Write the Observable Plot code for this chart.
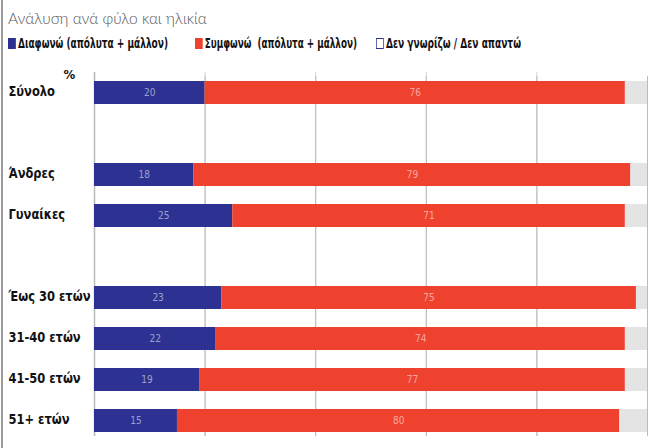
<!DOCTYPE html>
<html><head><meta charset="utf-8">
<script src="https://cdn.jsdelivr.net/npm/d3@7"></script>
<script src="https://cdn.jsdelivr.net/npm/@observablehq/plot@0.6"></script>
<style>
body{margin:0;width:658px;height:448px;position:relative;background:#fff;overflow:hidden;font-family:"DejaVu Sans Condensed",sans-serif;}
#border{position:absolute;left:1px;top:0;width:2px;height:448px;background:#9a9a9a;}
#title{position:absolute;left:8px;top:9px;font-family:Lato,sans-serif;font-weight:300;font-size:15.5px;color:#555;}
#legend{position:absolute;left:0;top:35px;font-size:14px;font-weight:bold;color:#111;white-space:nowrap;}
#legend span.item{position:absolute;top:0;transform-origin:0 50%;}
#legend i{display:inline-block;width:11px;height:11px;margin-right:3px;vertical-align:-1px;}
#chart{position:absolute;left:0;top:58px;}
</style></head>
<body>
<div id="border"></div>
<div id="title">Ανάλυση ανά φύλο και ηλικία</div>
<div id="legend"></div>
<div id="chart"></div>
<script>
const categories = ["Σύνολο", " ", "Άνδρες", "Γυναίκες", "  ", "Έως 30 ετών", "31-40 ετών", "41-50 ετών", "51+ ετών"];
const disagree = [20, null, 18, 25, null, 23, 22, 19, 15];
const agree    = [76, null, 79, 71, null, 75, 74, 77, 80];
const dontKnow = [4, null, 3, 4, null, 2, 4, 4, 5];
const seriesNames = ["Διαφωνώ (απόλυτα + μάλλον)", "Συμφωνώ  (απόλυτα + μάλλον)", "Δεν γνωρίζω / Δεν απαντώ"];
const seriesColors = ["#2c3192", "#ee412e", "#e4e4e4"];
const gridTicks = [20, 40, 60, 80];
const axisTicks = [0, 20, 40, 60, 80, 100];

// legend
const legend = document.getElementById("legend");
const legendX = [8, 195, 376];
const legendW = [160, 162, 145];
seriesNames.forEach((n, i) => {
  const s = document.createElement("span");
  s.className = "item";
  s.style.left = legendX[i] + "px";
  const box = i === 2 ? `<i style="background:#fff;border:1.5px solid #2c3192;box-sizing:border-box;"></i>` : `<i style="background:${seriesColors[i]}"></i>`;
  s.innerHTML = box + n.replace(/  /g, "&nbsp; ");
  legend.appendChild(s);
  const w = s.getBoundingClientRect().width;
  s.style.transform = `scaleX(${legendW[i] / w})`;
});

const rows = [];
categories.forEach((c, i) => {
  if (disagree[i] == null) return;
  rows.push({cat: c, series: seriesNames[0], value: disagree[i], label: String(disagree[i])});
  rows.push({cat: c, series: seriesNames[1], value: agree[i], label: String(agree[i])});
  rows.push({cat: c, series: seriesNames[2], value: dontKnow[i], label: ""});
});
const realCats = categories.filter((c, i) => disagree[i] != null);

const chart = Plot.plot({
  width: 658,
  height: 390,
  marginLeft: 94,
  marginRight: 11,
  marginTop: 18,
  marginBottom: 12,
  x: {domain: [0, 100], axis: null},
  y: {domain: categories, axis: null, paddingInner: 0.44, paddingOuter: 0.1},
  color: {domain: seriesNames, range: seriesColors},
  style: {fontFamily: "DejaVu Sans Condensed, sans-serif"},
  marks: [
    Plot.ruleX(gridTicks, {stroke: "#d4d4d4", strokeWidth: 1, insetTop: -4}),
    Plot.ruleX([0], {stroke: "#b5b5b5", strokeWidth: 1.5, insetTop: -4}),
    Plot.tickX(axisTicks, {frameAnchor: "bottom", stroke: "#bbb"}),
    Plot.barX(rows, Plot.stackX({x: "value", y: "cat", fill: "series", z: "series", order: seriesNames})),
    Plot.text(rows, Plot.stackX({x: "value", y: "cat", z: "series", order: seriesNames, text: "label", fill: "#ffffff", fillOpacity: 0.55, fontSize: 10})),
    Plot.text(realCats, {y: d => d, text: d => d, frameAnchor: "left", dx: -86, dy: -2, textAnchor: "start", fontWeight: "bold", fontSize: 14.5, fill: "#111", className: "catlabel"}),
    Plot.text(["%"], {frameAnchor: "top-left", dx: -31, dy: -7, text: d => d, fontWeight: "bold", fontSize: 13, fill: "#111"})
  ]
});
document.getElementById("chart").appendChild(chart);
// condense category labels (narrow typeface in reference)
chart.querySelectorAll(".catlabel text").forEach(t => {
  const len = t.getComputedTextLength();
  t.setAttribute("textLength", (len * 0.88).toFixed(1));
  t.setAttribute("lengthAdjust", "spacingAndGlyphs");
});
</script>
</body></html>
